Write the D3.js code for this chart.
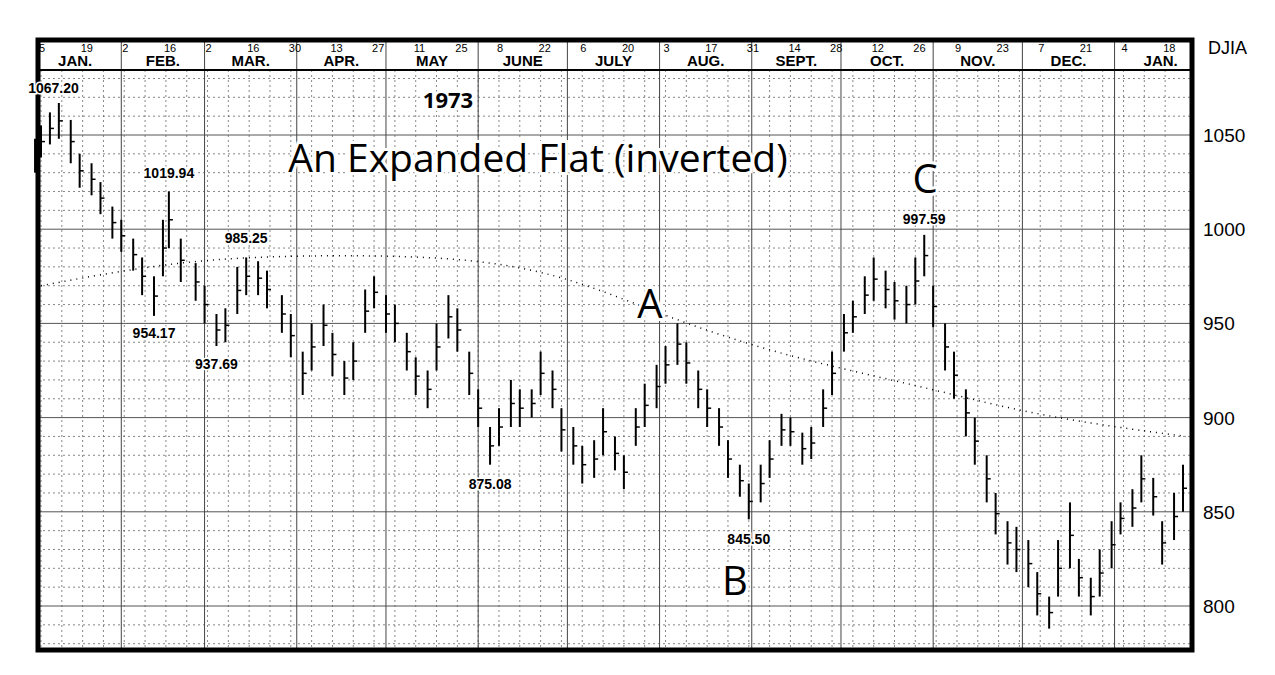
<!DOCTYPE html>
<html><head><meta charset="utf-8">
<script src="https://cdn.jsdelivr.net/npm/d3@7"></script>
<style>body{margin:0;background:#fff}</style></head>
<body><svg id="c" width="1275" height="675"></svg>
<script>
const barDates=["1973-01-03","1973-01-05","1973-01-08","1973-01-11","1973-01-15","1973-01-18","1973-01-22","1973-01-25","1973-01-29","1973-02-01","1973-02-05","1973-02-08","1973-02-12","1973-02-15","1973-02-17","1973-02-21","1973-02-26","1973-03-01","1973-03-05","1973-03-08","1973-03-12","1973-03-15","1973-03-19","1973-03-22","1973-03-27","1973-03-30","1973-04-03","1973-04-06","1973-04-10","1973-04-13","1973-04-17","1973-04-20","1973-04-24","1973-04-27","1973-05-01","1973-05-04","1973-05-08","1973-05-11","1973-05-15","1973-05-18","1973-05-22","1973-05-25","1973-05-29","1973-06-01","1973-06-05","1973-06-08","1973-06-12","1973-06-15","1973-06-19","1973-06-22","1973-06-26","1973-06-29","1973-07-03","1973-07-06","1973-07-10","1973-07-13","1973-07-17","1973-07-20","1973-07-24","1973-07-27","1973-07-31","1973-08-03","1973-08-07","1973-08-10","1973-08-14","1973-08-17","1973-08-21","1973-08-24","1973-08-28","1973-08-31","1973-09-04","1973-09-07","1973-09-11","1973-09-14","1973-09-18","1973-09-21","1973-09-25","1973-09-28","1973-10-02","1973-10-05","1973-10-09","1973-10-12","1973-10-16","1973-10-19","1973-10-23","1973-10-26","1973-10-29","1973-11-01","1973-11-05","1973-11-08","1973-11-12","1973-11-15","1973-11-19","1973-11-22","1973-11-26","1973-11-29","1973-12-03","1973-12-06","1973-12-10","1973-12-13","1973-12-17","1973-12-20","1973-12-24","1973-12-27","1973-12-31","1974-01-03","1974-01-07","1974-01-10","1974-01-14","1974-01-17","1974-01-21","1974-01-24"];
const highs=[1048,1055,1062,1067,1058,1040,1035,1025,1012,1005,995,985,975,1005,1020,995,982,970,955,958,980,985,983,978,965,955,935,950,960,945,930,940,968,975,965,960,945,932,925,950,965,958,935,915,895,905,920,915,915,935,925,905,895,885,888,905,890,880,905,918,928,938,950,940,925,915,905,888,875,865,875,888,902,900,892,895,915,935,955,962,975,985,978,972,970,985,997,970,950,935,915,900,880,860,845,842,835,818,805,835,855,825,815,830,845,855,862,880,868,845,860,875];
const lows=[1030,1038,1045,1048,1035,1022,1018,1008,995,988,978,965,954,975,990,972,962,950,938,940,955,965,965,958,945,932,912,925,938,922,912,920,945,958,945,940,925,912,905,925,942,935,912,895,875,885,895,895,900,912,905,882,875,865,868,880,872,862,885,895,905,918,928,918,905,895,885,868,858,846,855,868,885,885,875,878,895,912,935,945,955,962,958,952,950,960,975,948,925,910,890,875,855,838,822,818,810,795,788,805,820,805,795,805,820,838,842,855,848,822,835,850];
const maDates=["1973-01-05","1973-02-01","1973-03-01","1973-04-01","1973-05-01","1973-06-01","1973-07-01","1973-08-01","1973-09-01","1973-10-01","1973-11-01","1973-12-01","1974-01-01","1974-01-25"];
const maVals=[970,978,984,986,986,984,975,955,938,926,915,903,895,890];
const yTicks=[800,850,900,950,1000,1050];
const monthNames=["JAN.","FEB.","MAR.","APR.","MAY","JUNE","JULY","AUG.","SEPT.","OCT.","NOV.","DEC.","JAN."];
const dayLabels=["1973-01-05","1973-01-19","1973-02-02","1973-02-16","1973-03-02","1973-03-16","1973-03-30","1973-04-13","1973-04-27","1973-05-11","1973-05-25","1973-06-08","1973-06-22","1973-07-06","1973-07-20","1973-08-03","1973-08-17","1973-08-31","1973-09-14","1973-09-28","1973-10-12","1973-10-26","1973-11-09","1973-11-23","1973-12-07","1973-12-21","1974-01-04","1974-01-18"];
const notes=[["1067.20","1973-01-11",1067,-10,"end",0],["1019.94","1973-02-17",1019.94,-14,"middle",0],["954.17","1973-02-12",954.17,22,"middle",0],["985.25","1973-03-15",985.25,-14,"middle",0],["937.69","1973-03-05",937.69,22,"middle",0],["875.08","1973-06-05",875.08,24,"middle",0],["845.50","1973-08-31",845.5,24,"middle",0],["997.59","1973-10-29",997.59,-10,"middle",0]];

const P=d3.timeParse("%Y-%m-%d");
const svg=d3.select("#c");
const L=38,R=1192,T=40,B=650,H0=70;
const x=d3.scaleTime().domain([P("1973-01-05"),P("1974-01-23")]).range([41,1180]);
const y=d3.scaleLinear().domain([1050,800]).range([135,606]);
const g=svg.append("g");
const weeks=d3.timeFriday.range(P("1973-01-05"),P("1974-01-25"));
g.selectAll(".vg").data(weeks).join("line").attr("x1",d=>x(d)).attr("x2",d=>x(d)).attr("y1",H0).attr("y2",B)
 .attr("stroke","#555").attr("stroke-width",0.7).attr("stroke-dasharray","2,3");
const hv=d3.range(780,1090,10);
g.selectAll(".hg").data(hv).join("line").attr("x1",L).attr("x2",R).attr("y1",d=>y(d)).attr("y2",d=>y(d))
 .attr("stroke","#555").attr("stroke-width",d=>d%50==0?1:0.7).attr("stroke-dasharray",d=>d%50==0?null:"2,3");
const months=d3.timeMonth.range(P("1973-02-01"),P("1974-01-02"));
g.selectAll(".mg").data(months).join("line").attr("x1",d=>x(d)).attr("x2",d=>x(d)).attr("y1",T).attr("y2",B).attr("stroke","#444").attr("stroke-width",1);
svg.append("line").attr("x1",L).attr("x2",R).attr("y1",H0).attr("y2",H0).attr("stroke","#000").attr("stroke-width",2);
svg.selectAll(".dl").data(dayLabels).join("text").attr("x",d=>x(P(d))-2).attr("y",52).attr("font-size",11).attr("font-family","Liberation Sans").text(d=>+d.slice(8));
const mstarts=[P("1973-01-01"),...months,P("1974-02-01")];
svg.selectAll(".ml").data(monthNames).join("text").attr("x",(d,i)=>Math.min(1166,Math.max(62,(x(mstarts[i])+x(mstarts[i+1]))/2))).attr("y",66)
 .attr("text-anchor","middle").attr("font-size",15).attr("font-weight","bold").attr("font-family","Liberation Sans").text(d=>d);
svg.append("path").datum(maDates.map((d,i)=>[x(P(d)),y(maVals[i])])).attr("d",d3.line().curve(d3.curveBasis))
 .attr("fill","none").attr("stroke","#000").attr("stroke-width",1.5).attr("stroke-dasharray","1,5");
svg.selectAll(".bar").data(barDates).join("line").attr("x1",d=>x(P(d))).attr("x2",d=>x(P(d)))
 .attr("y1",(d,i)=>y(highs[i])).attr("y2",(d,i)=>y(lows[i])).attr("stroke","#000").attr("stroke-width",2);
svg.selectAll(".tk").data(barDates).join("line").attr("x1",d=>x(P(d))).attr("x2",d=>x(P(d))+4)
 .attr("y1",(d,i)=>y((highs[i]+lows[i])/2)).attr("y2",(d,i)=>y((highs[i]+lows[i])/2)).attr("stroke","#000").attr("stroke-width",1.5);
svg.append("rect").attr("x",L).attr("y",T).attr("width",R-L).attr("height",B-T).attr("fill","none").attr("stroke","#000").attr("stroke-width",5);
svg.selectAll(".yt").data(yTicks).join("text").attr("x",1203).attr("y",d=>y(d)+7).attr("font-size",19).attr("font-family","Liberation Sans").text(d=>d);
svg.append("text").attr("x",1208).attr("y",54).attr("font-size",18).attr("font-family","Liberation Sans").text("DJIA");
svg.selectAll(".nt").data(notes).join("text").attr("x",d=>x(P(d[1]))+(d[4]=="end"?20:0)).attr("y",d=>y(d[2])+d[3])
 .attr("text-anchor",d=>d[4]).attr("font-size",14).attr("font-weight","bold").attr("font-family","Liberation Sans").attr("fill","#000")
 .attr("stroke","#fff").attr("stroke-width",3).attr("paint-order","stroke").text(d=>d[0]);
const big=[["1973",448,108,22,"bold"],["An Expanded Flat (inverted)",538,172,39,"normal"],["A",650,318,40,"normal"],["B",735,595,40,"normal"],["C",925,193,40,"normal"]];
svg.selectAll(".bg").data(big).join("text").attr("x",d=>d[1]).attr("y",d=>d[2]).attr("text-anchor","middle").attr("font-size",d=>d[3])
 .attr("font-weight",d=>d[4]).attr("font-family","Open Sans").attr("stroke","#fff").attr("stroke-width",6).attr("paint-order","stroke").text(d=>d[0]);
</script></body></html>
